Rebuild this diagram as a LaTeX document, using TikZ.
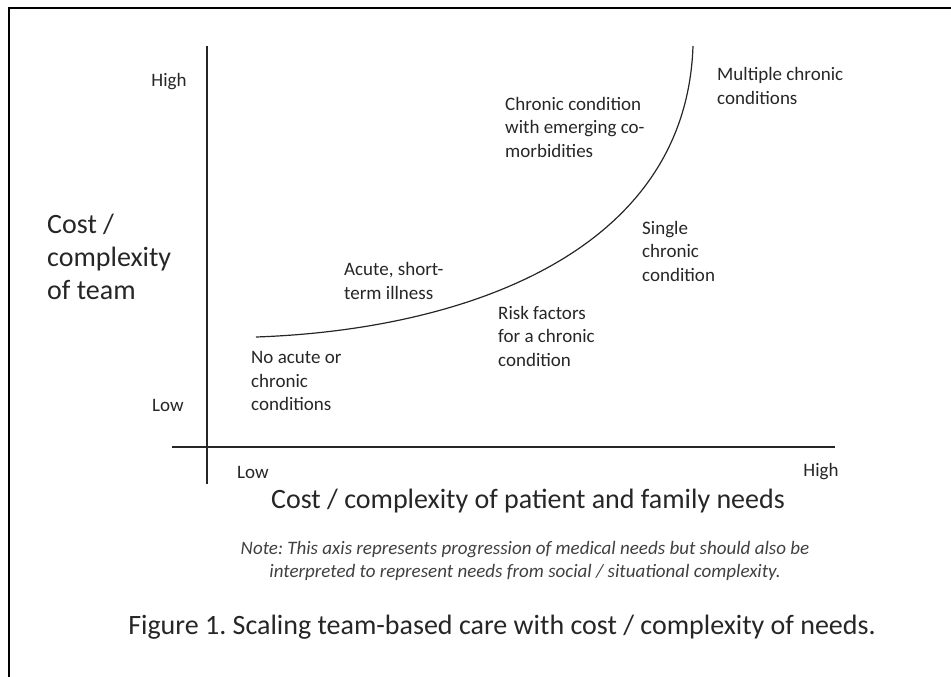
\documentclass[tikz,border=0pt]{standalone}
\usepackage{fontspec}
\setmainfont{Carlito}
\frenchspacing
\begin{document}
\begin{tikzpicture}[x=1pt,y=-1pt,
  lbl/.style={anchor=west, align=left, inner sep=0pt, text=black!85,
    font=\fontsize{19}{23.5}\selectfont},
  axlbl/.style={inner sep=0pt, text=black!85, font=\fontsize{19}{23.5}\selectfont},
  big/.style={inner sep=0pt, text=black!85, font=\fontsize{28}{33}\selectfont},
  note/.style={inner sep=0pt, align=center, text=black!75,
    font=\fontsize{19}{23}\selectfont\itshape},
  axis/.style={line width=1.2pt, black!85},
  curveline/.style={line width=1.2pt, black!85},
  frame/.style={line width=2.7pt, black}]
\useasboundingbox (0,0) rectangle (951,677);
% frame (open to right and bottom)
\coordinate (fbl) at (9,690);
\coordinate (ftl) at (9,8);
\coordinate (ftr) at (965,8);
\draw[frame] (fbl) -- (ftl) -- (ftr);
% axes
\coordinate (ytop) at (207,46);
\coordinate (ybot) at (207,484);
\coordinate (xl) at (172,447);
\coordinate (xr) at (835,447);
\draw[axis] (ytop) -- (ybot);
\draw[axis] (xl) -- (xr);
% curve
\coordinate (c0) at (256,337);
\coordinate (c1) at (693,46);
\draw[curveline] (c0) .. controls (460,330) and (686,255) .. (c1);
% axis labels
\node[axlbl] (yhigh) at (169,82) {High};
\node[axlbl] (ylow) at (168,405) {Low};
\node[axlbl] (xlow) at (253,472) {Low};
\node[axlbl] (xhigh) at (821,472) {High};
\node[big, anchor=west, align=left] (ytitle) at (47,257) {Cost /\\complexity\\of team};
\node[big] (xtitle) at (528,501) {Cost / complexity of patient and family needs};
% region labels
\node[lbl] (none) at (251,381) {No acute or\\chronic\\conditions};
\node[lbl] (acute) at (344,281) {Acute, short-\\term illness};
\node[lbl] (risk) at (498,336) {Risk factors\\for a chronic\\condition};
\node[lbl] (single) at (642,251) {Single\\chronic\\condition};
\node[lbl] (emerg) at (505,127) {Chronic condition\\with emerging co-\\morbidities};
\node[lbl] (multi) at (717,86) {Multiple chronic\\conditions};
% note and caption
\node[note] (note) at (525,561) {Note: This axis represents progression of medical needs but should also be\\interpreted to represent needs from social / situational complexity.};
\node[big] (caption) at (502,627) {Figure 1. Scaling team-based care with cost / complexity of needs.};
\end{tikzpicture}
\end{document}
